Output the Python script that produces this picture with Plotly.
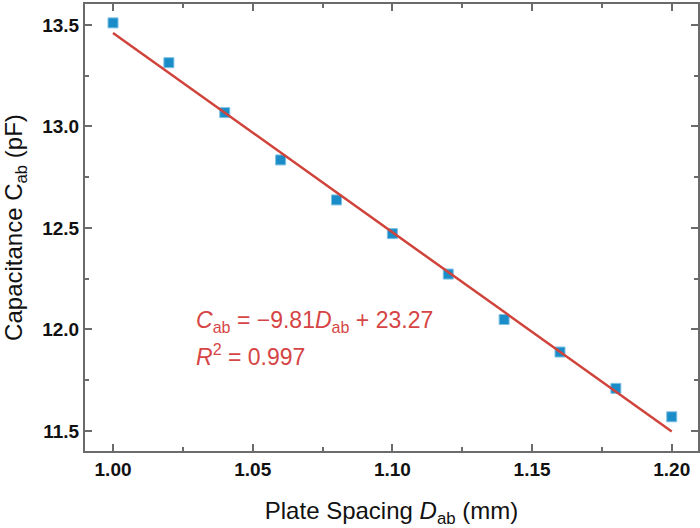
import plotly.graph_objects as go

# Data
spacing_mm = [1.00, 1.02, 1.04, 1.06, 1.08, 1.10, 1.12, 1.14, 1.16, 1.18, 1.20]
capacitance_pF = [13.51, 13.314, 13.068, 12.835, 12.638, 12.472, 12.273, 12.049, 11.889, 11.710, 11.570]
fit_slope = -9.81
fit_intercept = 23.27
r_squared = 0.997

x_ticks = [1.00, 1.05, 1.10, 1.15, 1.20]
x_tick_labels = ["1.00", "1.05", "1.10", "1.15", "1.20"]
y_ticks = [11.5, 12.0, 12.5, 13.0, 13.5]
y_tick_labels = ["11.5", "12.0", "12.5", "13.0", "13.5"]

fit_x = [spacing_mm[0], spacing_mm[-1]]
fit_y = [fit_slope * v + fit_intercept for v in fit_x]

FONT = "Arial, Liberation Sans, sans-serif"
AX = "#6b6b6b"

fig = go.Figure()
fig.add_trace(go.Scatter(
    x=spacing_mm, y=capacitance_pF, mode="markers",
    marker=dict(symbol="square", size=10, color="#1a8cc8",
                line=dict(color="#7cc0e4", width=1)),
    showlegend=False, hoverinfo="x+y"))
fig.add_trace(go.Scatter(
    x=fit_x, y=fit_y, mode="lines",
    line=dict(color="#d0433b", width=2.5),
    showlegend=False))

axis_common = dict(
    showline=True, linecolor=AX, linewidth=2, mirror="ticks",
    ticks="inside", ticklen=7, tickwidth=1.5, tickcolor=AX,
    showgrid=False, zeroline=False, automargin=False,
    tickfont=dict(family=FONT, size=19, color="#111111", weight="bold"),
)

fig.update_xaxes(
    range=[0.98997, 1.2094], tickvals=x_ticks, ticktext=x_tick_labels,
    minor=dict(ticks="inside", ticklen=4, tickwidth=1.5, tickcolor=AX, dtick=0.025, tick0=1.0, showgrid=False),
    title=dict(text="Plate Spacing <i>D</i><sub>ab</sub> (mm)",
               font=dict(family=FONT, size=24, color="#111111"), standoff=25),
    **axis_common)
fig.update_yaxes(
    range=[11.4015, 13.603], tickvals=y_ticks, ticktext=y_tick_labels,
    minor=dict(ticks="inside", ticklen=4, tickwidth=1.5, tickcolor=AX, dtick=0.25, tick0=11.5, showgrid=False),
    title=dict(text="Capacitance C<sub>ab</sub> (pF)",
               font=dict(family=FONT, size=24, color="#111111"), standoff=19),
    **axis_common)

ann_color = "#d64545"
fig.add_annotation(
    x=1.0291, y=12.037, xref="x", yref="y", xanchor="left", yanchor="middle",
    text="<i>C</i><sub>ab</sub> = \u22129.81<i>D</i><sub>ab</sub> + 23.27",
    showarrow=False, font=dict(family=FONT, size=23, color=ann_color))
fig.add_annotation(
    x=1.0291, y=11.874, xref="x", yref="y", xanchor="left", yanchor="middle",
    text="<i>R</i><sup>2</sup> = " + f"{r_squared:.3f}",
    showarrow=False, font=dict(family=FONT, size=23, color=ann_color))

fig.update_layout(
    width=700, height=528,
    margin=dict(l=85, r=2, t=4, b=77),
    plot_bgcolor="white", paper_bgcolor="white",
)

fig.write_html("out.html", config={"displayModeBar": False},
               post_script="document.body.style.margin='0';document.body.style.overflow='hidden';")
